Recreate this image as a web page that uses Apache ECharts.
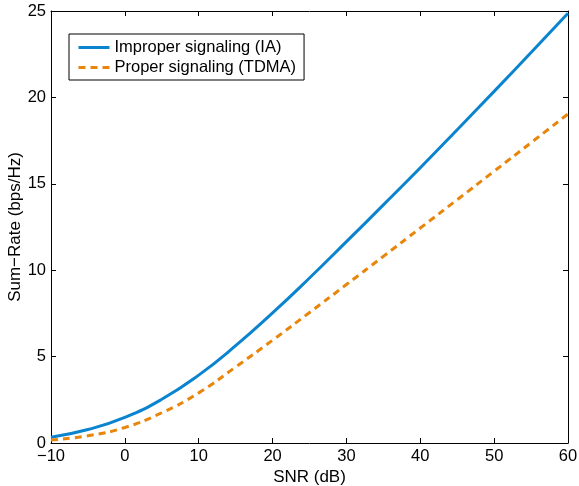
<!DOCTYPE html>
<html>
<head>
<meta charset="utf-8">
<script src="https://cdn.jsdelivr.net/npm/echarts@6/dist/echarts.min.js"></script>
<style>html,body{margin:0;padding:0;background:#fff}#c{width:579px;height:486px}</style>
</head>
<body>
<div id="c"></div>
<script>
var snr = [-10, -5, 0, 5, 10, 15, 20, 25, 30, 35, 40, 45, 50, 55, 60];
var improperIA = [0.33, 0.78, 1.48, 2.53, 3.93, 5.63, 7.53, 9.55, 11.65, 13.78, 15.93, 18.13, 20.35, 22.6, 24.87];
var properTDMA = [0.17, 0.42, 0.9, 1.75, 2.9, 4.4, 5.95, 7.55, 9.17, 10.8, 12.44, 14.08, 15.73, 17.38, 19.04];
var seriesNames = ['Improper signaling (IA)', 'Proper signaling (TDMA)'];
var xTicks = [-10, 0, 10, 20, 30, 40, 50, 60];
var yTicks = [0, 5, 10, 15, 20, 25];

function pairs(xs, ys) { return xs.map(function (x, i) { return [x, ys[i]]; }); }
var font = 'Liberation Sans, Arial, Helvetica, sans-serif';
var chart = echarts.init(document.getElementById('c'), null, { renderer: 'canvas' });
var axisCommon = {
  axisLine: { show: true, onZero: false, lineStyle: { color: '#000', width: 1 } },
  axisTick: { show: true, inside: true, length: 5, lineStyle: { color: '#000', width: 1 } },
  splitLine: { show: false }
};
chart.setOption({
  animation: false,
  backgroundColor: '#fff',
  grid: { left: 51, right: 11, top: 11, bottom: 43, containLabel: false, outerBoundsMode: 'none' },
  legend: {
    orient: 'vertical',
    left: 69, top: 34,
    padding: [5, 8, 4, 8],
    itemWidth: 31, itemHeight: 14, itemGap: 3,
    borderColor: '#000', borderWidth: 1, backgroundColor: '#fff',
    itemStyle: { opacity: 0 },
    lineStyle: { width: 3 },
    textStyle: { fontFamily: font, fontSize: 16.5, color: '#000' },
    data: seriesNames
  },
  xAxis: [
    Object.assign({
      type: 'value', min: xTicks[0], max: xTicks[xTicks.length - 1], interval: 10,
      name: 'SNR (dB)', nameLocation: 'middle', nameGap: 26, nameMoveOverlap: false,
      nameTextStyle: { fontFamily: font, fontSize: 17, color: '#000' },
      axisLabel: { fontFamily: font, fontSize: 16.5, color: '#000', margin: 5,
        formatter: function (v) { return String(v).replace('-', '\u2212'); } }
    }, axisCommon),
    Object.assign({
      type: 'value', min: xTicks[0], max: xTicks[xTicks.length - 1], interval: 10, position: 'top',
      axisLabel: { show: false }
    }, axisCommon)
  ],
  yAxis: [
    Object.assign({
      type: 'value', min: yTicks[0], max: yTicks[yTicks.length - 1], interval: 5,
      name: 'Sum\u2212Rate (bps/Hz)', nameLocation: 'middle', nameGap: 27, nameMoveOverlap: false,
      nameTextStyle: { fontFamily: font, fontSize: 17, color: '#000' },
      axisLabel: { fontFamily: font, fontSize: 16.5, color: '#000', margin: 5 }
    }, axisCommon),
    Object.assign({
      type: 'value', min: yTicks[0], max: yTicks[yTicks.length - 1], interval: 5, position: 'right',
      axisLabel: { show: false }
    }, axisCommon)
  ],
  series: [
    {
      name: seriesNames[0], type: 'line', smooth: true, symbol: 'none',
      data: pairs(snr, improperIA),
      lineStyle: { color: '#0b84cf', width: 3 }, itemStyle: { color: '#0b84cf' }
    },
    {
      name: seriesNames[1], type: 'line', smooth: true, symbol: 'none',
      data: pairs(snr, properTDMA),
      lineStyle: { color: '#e8860c', width: 3, type: [7, 5] }, itemStyle: { color: '#e8860c' }
    }
  ]
});
</script>
</body>
</html>
